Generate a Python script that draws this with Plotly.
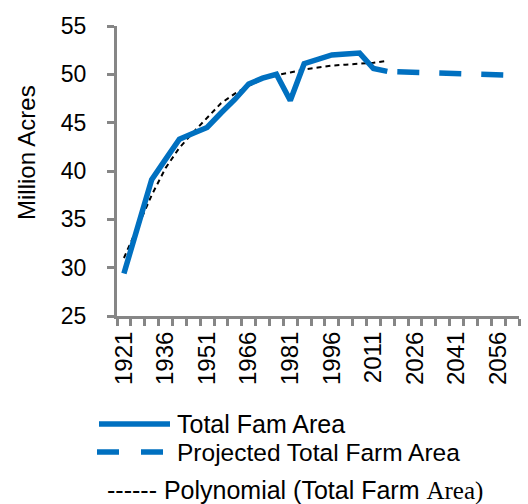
import plotly.graph_objects as go

# %% Data (million acres)
hist_years = [1921, 1926, 1931, 1936, 1941, 1946, 1951, 1956, 1961, 1966,
              1971, 1976, 1981, 1986, 1991, 1996, 2001, 2006, 2011, 2016]
hist_area = [29.4, 34.3, 39.1, 41.2, 43.3, 43.9, 44.5, 46.0, 47.4, 49.0,
             49.6, 50.0, 47.3, 51.1, 51.5, 52.0, 52.1, 52.2, 50.6, 50.3]

proj_years = [2016, 2021, 2026, 2031, 2036, 2041, 2046, 2051, 2056, 2061]
proj_area = [50.3, 50.25, 50.2, 50.2, 50.15, 50.1, 50.05, 50.0, 49.95, 49.9]

trend_area = [31.0, 34.3, 37.5, 40.3, 42.4, 44.0, 45.5, 47.0, 48.0, 48.8,
              49.5, 49.9, 50.2, 50.5, 50.7, 50.9, 51.0, 51.1, 51.2, 51.4]

tick_years = [1921, 1936, 1951, 1966, 1981, 1996, 2011, 2026, 2041, 2056]

BLUE = "#0070C0"
GREY = "#868686"
FONT = "Liberation Sans, Arial, sans-serif"
SERIF = "Liberation Serif, Times New Roman, serif"

# plot area in pixels, used to place the hand-made legend
L, R, T, B = 117, 519, 26, 316


def px(x):
    return (x - L) / (R - L)


def py(y):
    return (B - y) / (B - T)


# %% Figure
fig = go.Figure()
fig.add_trace(go.Scatter(
    x=hist_years, y=trend_area, mode="lines", showlegend=False,
    line=dict(color="black", width=2, dash="5px,4px"),
))
fig.add_trace(go.Scatter(
    x=hist_years, y=hist_area, mode="lines", showlegend=False,
    line=dict(color=BLUE, width=5.5),
))
fig.add_trace(go.Scatter(
    x=proj_years, y=proj_area, mode="lines", showlegend=False,
    line=dict(color=BLUE, width=5.5, dash="0px,10px,22px,10px"),
))

# legend, drawn by hand to match the long Excel symbols
fig.add_shape(type="line", xref="paper", yref="paper",
              x0=px(99), x1=px(170), y0=py(424), y1=py(424),
              line=dict(color=BLUE, width=5.5))
fig.add_shape(type="line", xref="paper", yref="paper",
              x0=px(97), x1=px(166), y0=py(452), y1=py(452),
              line=dict(color=BLUE, width=5.5, dash="22px,22px"))
legend_rows = [("Total Fam Area", 175, 424, 25),
               ("Projected Total Farm Area", 175, 452, 24.5),
               ("------ Polynomial (Total Farm "
                f"<span style='font-family:{SERIF}'>Area)</span>", 105, 490, 25)]
for text, x, y, size in legend_rows:
    fig.add_annotation(text=text, xref="paper", yref="paper", x=px(x), y=py(y),
                       xanchor="left", yanchor="middle", showarrow=False,
                       font=dict(family=FONT, size=size, color="black"))

fig.add_annotation(text="Million Acres", xref="paper", yref="paper",
                   x=px(26), y=py(153), textangle=-90, showarrow=False,
                   xanchor="center", yanchor="middle",
                   font=dict(family=FONT, size=24, color="black"))

fig.update_layout(
    width=528, height=504,
    margin=dict(l=L, r=528 - R, t=T, b=504 - B, autoexpand=False),
    paper_bgcolor="white", plot_bgcolor="white",
    font=dict(family=FONT, size=23, color="black"),
    showlegend=False,
    xaxis=dict(
        range=[1918.5, 2063.5], automargin=False,
        tickvals=tick_years, ticktext=[str(y) for y in tick_years],
        tickangle=-90, ticks="", ticklabelstandoff=3,
        tickfont=dict(size=24),
        minor=dict(tick0=1918.5, dtick=5, ticks="outside", ticklen=7,
                   tickwidth=3, tickcolor=GREY, showgrid=False),
        showline=True, linecolor=GREY, linewidth=3,
        showgrid=False, zeroline=False,
    ),
    yaxis=dict(
        range=[25, 55], dtick=5, automargin=False,
        ticks="outside", ticklen=7, tickwidth=3, tickcolor=GREY,
        ticklabelstandoff=16,
        showline=True, linecolor=GREY, linewidth=3,
        showgrid=False, zeroline=False,
    ),
)

# the default page has an 8px body margin; drop it so the chart fills the window
fig.write_html("out.html", config={"displayModeBar": False},
               post_script="document.body.style.margin='0';")
